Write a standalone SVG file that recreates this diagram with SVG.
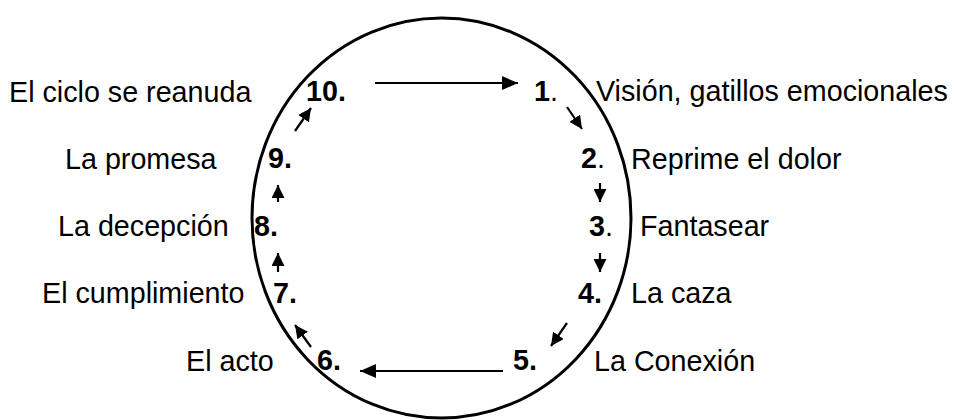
<svg xmlns="http://www.w3.org/2000/svg" width="956" height="420" viewBox="0 0 956 420">
  <style>
    text { font-family: "Liberation Sans", Arial, sans-serif; font-size: 28.7px; fill: #000; }
    .num { font-weight: bold; }
    .reg { font-weight: normal; }
    .conn line { stroke: #000; stroke-width: 2.2; fill: none; }
    .small { marker-end: url(#headS); }
    .long { marker-end: url(#headL); }
  </style>
  <defs>
    <marker id="headS" markerUnits="userSpaceOnUse" markerWidth="14" markerHeight="13" refX="13" refY="6.5" orient="auto">
      <path d="M0,0 L13,6.5 L0,13 Z" fill="#000"/>
    </marker>
    <marker id="headL" markerUnits="userSpaceOnUse" markerWidth="17" markerHeight="14" refX="16" refY="7" orient="auto">
      <path d="M0,0 L16,7 L0,14 Z" fill="#000"/>
    </marker>
  </defs>
  <rect width="956" height="420" fill="#fff"/>
  <ellipse id="cycle" cx="441.5" cy="218" rx="189.5" ry="200" fill="none" stroke="#000" stroke-width="3"/>

  <g id="step10"><text x="9" y="102">El ciclo se reanuda</text><text class="num" x="306" y="101">10.</text></g>
  <g id="step1"><text class="num" x="534" y="101">1<tspan class="reg">.</tspan></text><text x="596" y="101">Visión, gatillos emocionales</text></g>
  <g id="step9"><text x="65" y="169">La promesa</text><text class="num" x="268" y="168">9.</text></g>
  <g id="step2"><text class="num" x="581" y="168">2<tspan class="reg">.</tspan></text><text x="631" y="169">Reprime el dolor</text></g>
  <g id="step8"><text x="58" y="236">La decepción</text><text class="num" x="254" y="236">8.</text></g>
  <g id="step3"><text class="num" x="589" y="236">3<tspan class="reg">.</tspan></text><text x="640" y="236">Fantasear</text></g>
  <g id="step7"><text x="42" y="303">El cumplimiento</text><text class="num" x="273" y="303">7.</text></g>
  <g id="step4"><text class="num" x="578" y="303">4.</text><text x="631" y="303">La caza</text></g>
  <g id="step6"><text x="186" y="371">El acto</text><text class="num" x="317" y="370">6.</text></g>
  <g id="step5"><text class="num" x="513" y="370">5.</text><text x="594" y="371">La Conexión</text></g>

  <g id="connectors" class="conn">
    <line class="long" x1="375" y1="83" x2="518" y2="83"/>
    <line class="small" x1="567" y1="107" x2="582" y2="129"/>
    <line class="small" x1="600" y1="183" x2="600" y2="202"/>
    <line class="small" x1="600" y1="253" x2="600" y2="272"/>
    <line class="small" x1="567" y1="323" x2="551" y2="346"/>
    <line class="long" x1="503" y1="371" x2="360" y2="371"/>
    <line class="small" x1="311" y1="347" x2="295" y2="325"/>
    <line class="small" x1="278" y1="272" x2="278" y2="253"/>
    <line class="small" x1="278" y1="202" x2="278" y2="185"/>
    <line class="small" x1="295" y1="131" x2="311" y2="108"/>
  </g>
</svg>
